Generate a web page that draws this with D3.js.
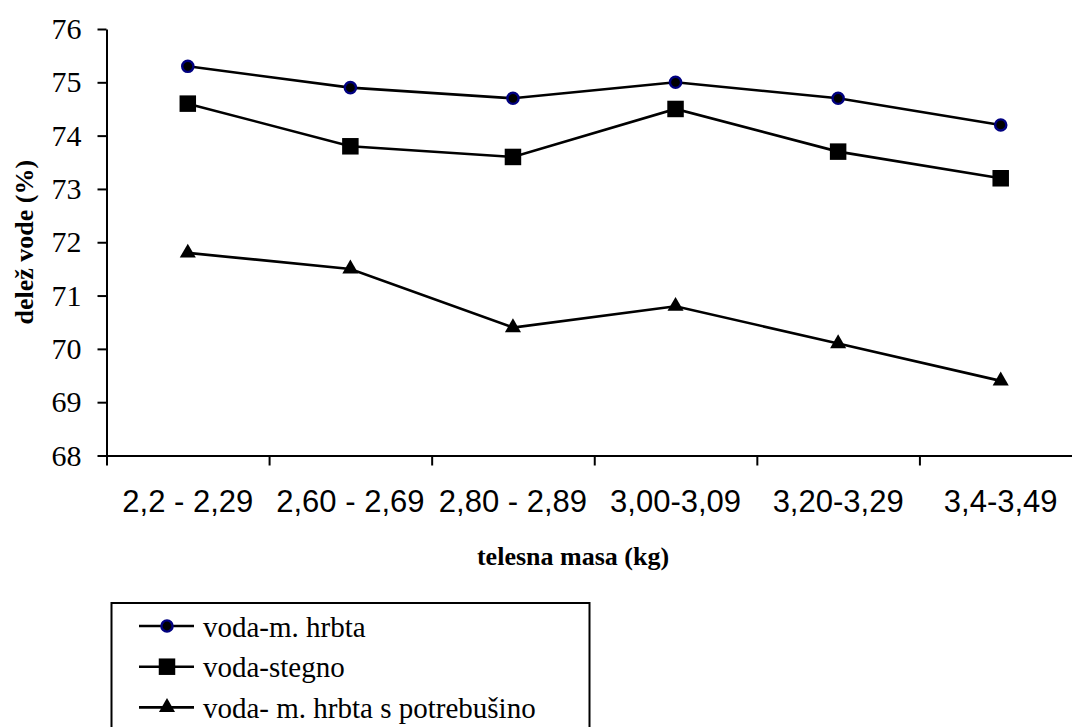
<!DOCTYPE html>
<html>
<head>
<meta charset="utf-8">
<script src="https://cdn.jsdelivr.net/npm/d3@7"></script>
<style>
  body { margin: 0; background: #fff; }
  svg { display: block; }
</style>
</head>
<body>
<div id="chart"></div>
<script>
const categories = ['2,2 - 2,29', '2,60 - 2,69', '2,80 - 2,89', '3,00-3,09', '3,20-3,29', '3,4-3,49']
const hrbta = [75.3, 74.9, 74.7, 75.0, 74.7, 74.2]
const stegno = [74.6, 73.8, 73.6, 74.5, 73.7, 73.2]
const potrebusina = [71.8, 71.5, 70.4, 70.8, 70.1, 69.4]
const yTicks = [68, 69, 70, 71, 72, 73, 74, 75, 76]

const series = [
	{ name: 'voda-m. hrbta', values: hrbta, marker: 'circle' },
	{ name: 'voda-stegno', values: stegno, marker: 'square' },
	{ name: 'voda- m. hrbta s potrebušino', values: potrebusina, marker: 'triangle' }
]

const width = 1072
const height = 727
const plotLeft = 106.5
const plotRight = 1082
const plotTop = 29
const plotBottom = 455.5
const serif = "'Liberation Serif'"
const sans = "'Liberation Sans'"

const x = d3.scaleBand().domain(categories).range([plotLeft, plotRight]).padding(0)
const xEdges = d3.scaleLinear().domain([0, categories.length]).range([plotLeft, plotRight])
const y = d3.scaleLinear().domain([68, 76]).range([plotBottom, plotTop])
const cx = c => x(c) + x.bandwidth() / 2

const svg =
	d3.select('#chart')
		.append('svg')
		.attr('width', width)
		.attr('height', height)

svg.append('rect')
	.attr('width', width)
	.attr('height', height)
	.attr('fill', '#fff')

// Axes
const yAxis = svg.append('g')
	.attr('transform', `translate(${plotLeft},0)`)
	.call(d3.axisLeft(y).tickValues(yTicks).tickSize(9).tickSizeOuter(0).tickPadding(16))
yAxis.selectAll('path, line').attr('stroke', '#000').attr('stroke-width', 2)
yAxis.selectAll('text')
	.style('font-family', serif)
	.style('font-size', '30px')
	.attr('fill', '#000')

const xTicks = svg.append('g')
	.attr('transform', `translate(0,${plotBottom})`)
	.call(d3.axisBottom(xEdges).tickValues(d3.range(categories.length + 1)).tickSize(10).tickSizeOuter(0).tickFormat(''))
xTicks.selectAll('path, line').attr('stroke', '#000').attr('stroke-width', 2)

const xLabels = svg.append('g')
	.attr('transform', `translate(0,${plotBottom})`)
	.call(d3.axisBottom(x).tickSize(0).tickPadding(34))
xLabels.select('.domain').remove()
xLabels.selectAll('text')
	.style('font-family', sans)
	.style('font-size', '31px')
	.attr('fill', '#000')

// Axis titles
svg.append('text')
	.attr('x', 573)
	.attr('y', 565)
	.attr('text-anchor', 'middle')
	.style('font-family', serif)
	.style('font-weight', 'bold')
	.style('font-size', '26px')
	.text('telesna masa (kg)')

svg.append('text')
	.attr('transform', `translate(33,${(plotTop + plotBottom) / 2}) rotate(-90)`)
	.attr('text-anchor', 'middle')
	.style('font-family', serif)
	.style('font-weight', 'bold')
	.style('font-size', '26px')
	.text('delež vode (%)')

// Markers
const drawMarker = (sel, type) => {
	if (type === 'circle') {
		sel.append('circle')
			.attr('r', 5.6)
			.attr('fill', '#000')
			.attr('stroke', '#000080')
			.attr('stroke-width', 2.4)
	} else if (type === 'square') {
		sel.append('path')
			.attr('d', d3.symbol(d3.symbolSquare, 16.5 * 16.5))
			.attr('fill', '#000')
	} else {
		sel.append('path')
			.attr('d', d3.symbol(d3.symbolTriangle, 112))
			.attr('fill', '#000')
	}
}

const line = d3.line()
	.x((d, i) => cx(categories[i]))
	.y(d => y(d))

const seriesGroups = svg.selectAll('g.series')
	.data(series)
	.enter()
	.append('g')
	.attr('class', 'series')

seriesGroups.append('path')
	.attr('d', d => line(d.values))
	.attr('fill', 'none')
	.attr('stroke', '#000')
	.attr('stroke-width', 2.6)

seriesGroups.each(function (s) {
	d3.select(this)
		.selectAll('g.pt')
		.data(s.values)
		.enter()
		.append('g')
		.attr('class', 'pt')
		.attr('transform', (d, i) => `translate(${cx(categories[i])},${y(d)})`)
		.each(function () { drawMarker(d3.select(this), s.marker) })
})

// Legend
const legend = svg.append('g').attr('class', 'legend')

legend.append('rect')
	.attr('x', 111.5)
	.attr('y', 603)
	.attr('width', 478)
	.attr('height', 200)
	.attr('fill', '#fff')
	.attr('stroke', '#000')
	.attr('stroke-width', 2)

const items = legend.selectAll('g.item')
	.data(series)
	.enter()
	.append('g')
	.attr('class', 'item')
	.attr('transform', (d, i) => `translate(0,${626 + i * 40.7})`)

items.append('line')
	.attr('x1', 139)
	.attr('x2', 194)
	.attr('stroke', '#000')
	.attr('stroke-width', 2.6)

items.each(function (s) {
	const g = d3.select(this).append('g').attr('transform', 'translate(167,0)')
	drawMarker(g, s.marker)
})

items.append('text')
	.attr('x', 203)
	.attr('y', 10.5)
	.style('font-family', serif)
	.style('font-size', '29px')
	.text(d => d.name)
</script>
</body>
</html>
